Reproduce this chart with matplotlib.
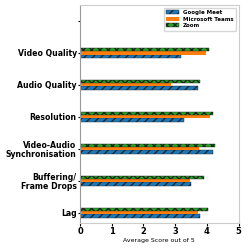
import numpy as np
import matplotlib
matplotlib.use("Agg")
import matplotlib.pyplot as plt

categories = ["Lag", "Buffering/\nFrame Drops", "Video-Audio\nSynchronisation",
              "Resolution", "Audio Quality", "Video Quality", ""]
google_meet = [3.77, 3.49, 4.20, 3.27, 3.72, 3.19, 0]
ms_teams = [3.71, 3.48, 3.74, 4.10, 2.87, 3.96, 0]
zoom = [4.04, 3.91, 4.25, 4.18, 3.77, 4.08, 0]

y = np.arange(len(categories))
h = 0.1

fig, ax = plt.subplots(figsize=(2.48, 2.48), dpi=100)
ax.barh(y - h, google_meet, h, label="Google Meet", color="#1f77b4",
        hatch="////", edgecolor="#1a2a3a", linewidth=0.3)
ax.barh(y, ms_teams, h, label="Microsoft Teams", color="#ff7f0e", linewidth=0)
ax.barh(y + h, zoom, h, label="Zoom", color="#2ca02c",
        hatch="xxxx", edgecolor="#1a2a1a", linewidth=0.3)

ax.set_xlim(0, 5)
ax.set_ylim(-0.32, 6.5)
ax.set_yticks(y)
ax.set_yticklabels(categories, fontsize=5.6, fontweight="bold", linespacing=1.1)
ax.tick_params(axis="x", labelsize=6, length=2, pad=1)
ax.tick_params(axis="y", length=1.5, pad=1)
for lbl in ax.get_xticklabels():
    lbl.set_fontweight("bold")
ax.set_xlabel("Average Score out of 5", fontsize=4.5, labelpad=1)
for s in ["top", "right", "bottom"]:
    ax.spines[s].set_color("#cccccc")
ax.spines["left"].set_color("#999999")
ax.legend(loc="upper right", prop={"size": 4, "weight": "bold"},
          handlelength=2.2, handleheight=0.7, borderpad=0.4, labelspacing=0.3)

fig.subplots_adjust(left=0.323, right=0.962, top=0.98, bottom=0.101)
fig.savefig("out.png", dpi=100)
